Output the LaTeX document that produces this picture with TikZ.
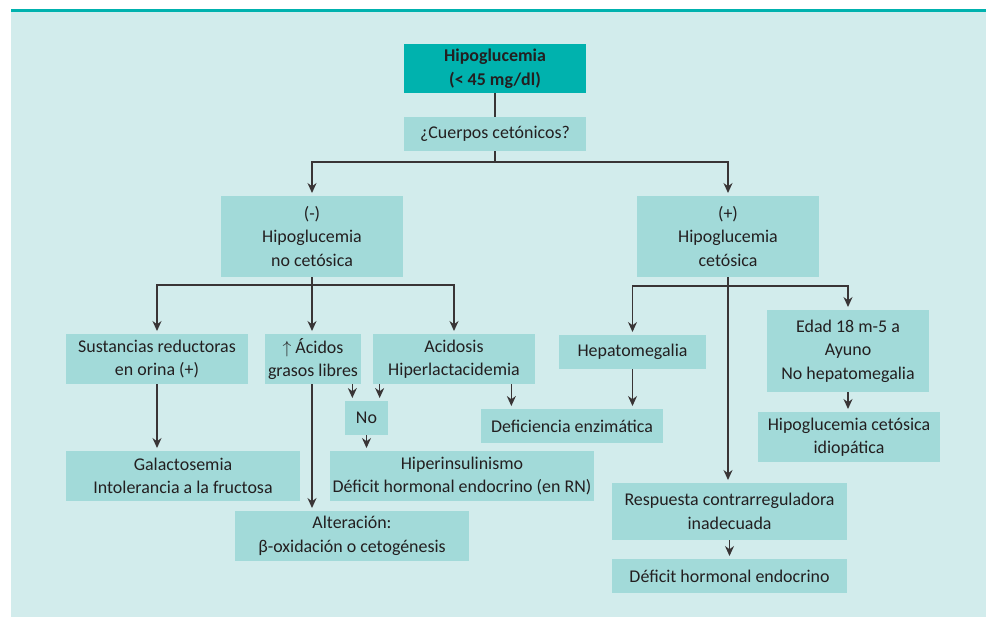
\documentclass[tikz,border=0pt]{standalone}
\usepackage{fontspec}
\setmainfont{Carlito}
\usetikzlibrary{arrows.meta,positioning}
\definecolor{PanelCyan}{HTML}{D2ECEC}
\definecolor{BoxCyan}{HTML}{A2DAD9}
\definecolor{HeadTeal}{HTML}{00B2AE}
\definecolor{InkGray}{HTML}{231F20}

\begin{document}
\begin{tikzpicture}[x=0.02cm,y=-0.02cm,
    every node/.style={font=\fontsize{10.2}{13.4}\selectfont,text=InkGray,align=center,inner sep=0pt},
    box/.style={rectangle,fill=BoxCyan},
    headbox/.style={rectangle,fill=HeadTeal,font=\fontsize{10.2}{13.4}\selectfont\bfseries},
    link/.style={line width=0.75pt,color=InkGray!90},
    arr/.style={link,-{Stealth[length=2mm,width=1.8mm]},shorten >=1.5pt}]
    % panel
    \useasboundingbox (0,0) rectangle (986,617);
    \fill[PanelCyan] (11,9) rectangle (986,617);
    \fill[HeadTeal] (11,9) rectangle (986,12);

    % top
    \node[headbox,minimum width=3.64cm,minimum height=0.98cm] (hipo) at (495,68.5) {Hipoglucemia\\(< 45 mg/dl)};
    \node[box,minimum width=3.64cm,minimum height=0.68cm] (cuerpos) at (495,134) {¿Cuerpos cetónicos?};

    % left branch
    \node[box,minimum width=3.64cm,minimum height=1.62cm] (nocet) at (312,236.5) {(-)\\Hipoglucemia\\no cetósica};
    \node[box,minimum width=3.64cm,minimum height=1.0cm] (sust) at (157,359) {Sustancias reductoras\\en orina (+)};
    \node[box,minimum width=1.92cm,minimum height=1.0cm] (acidos) at (313,359) {$\uparrow$ Ácidos\\grasos libres};
    \node[box,minimum width=3.24cm,minimum height=1.0cm] (acidosis) at (454,359) {Acidosis\\Hiperlactacidemia};
    \node[box,minimum width=0.86cm,minimum height=0.68cm] (no) at (366.5,418) {No};
    \node[box,minimum width=3.64cm,minimum height=0.68cm] (defenz) at (572,426) {Deficiencia enzimática};
    \node[box,minimum width=4.68cm,minimum height=1.0cm] (galac) at (183,476) {Galactosemia\\Intolerancia a la fructosa};
    \node[box,minimum width=5.28cm,minimum height=1.0cm] (hiperins) at (462,476) {Hiperinsulinismo\\Déficit hormonal endocrino (en RN)};
    \node[box,minimum width=4.68cm,minimum height=1.0cm] (alter) at (352,536) {Alteración:\\β-oxidación o cetogénesis};

    % right branch
    \node[box,minimum width=3.64cm,minimum height=1.62cm] (cet) at (728,236.5) {(+)\\Hipoglucemia\\cetósica};
    \node[box,minimum width=2.94cm,minimum height=0.68cm] (hepato) at (632.5,352) {Hepatomegalia};
    \node[box,minimum width=3.24cm,minimum height=1.64cm] (edad) at (848,351) {Edad 18 m-5 a\\Ayuno\\No hepatomegalia};
    \node[box,minimum width=3.64cm,minimum height=1.0cm] (idiop) at (849,437) {Hipoglucemia cetósica\\idiopática};
    \node[box,minimum width=4.7cm,minimum height=1.14cm] (resp) at (729.5,511.5) {Respuesta contrarreguladora\\inadecuada};
    \node[box,minimum width=4.7cm,minimum height=0.68cm] (defhorm) at (729.5,576) {Déficit hormonal endocrino};

    % split points
    \coordinate (split1) at (495,162);
    \coordinate (split2) at (312,285);
    \coordinate (split3) at (728,286);
    \coordinate (acidosR) at ([xshift=-0.18cm]acidos.south east);
    \coordinate (acidosisL) at ([xshift=0.14cm]acidosis.south west);
    \coordinate (acidosisR) at ([xshift=-0.48cm]acidosis.south east);

    \draw[link] (hipo) -- (cuerpos);
    \draw[link] (cuerpos) -- (split1);
    \draw[arr] (split1) -| (nocet);
    \draw[arr] (split1) -| (cet);

    \draw[link] (nocet) -- (split2);
    \draw[arr] (split2) -| (sust);
    \draw[arr] (split2) -- (split2 |- acidos.north);
    \draw[arr] (split2) -| (acidosis);
    \draw[arr] (sust) -- (sust.south |- galac.north);
    \draw[arr] (acidos.south -| split2) -- (split2 |- alter.north);
    \draw[arr] (acidosR) -- (acidosR |- no.north);
    \draw[arr] (acidosisL) -- (acidosisL |- no.north);
    \draw[arr] (acidosisR) -- (acidosisR |- defenz.north);
    \draw[arr] (no) -- (no.south |- hiperins.north);

    \draw[link] (cet) -- (split3);
    \draw[arr] (split3) -| (hepato);
    \draw[arr] (split3) -| (edad);
    \draw[arr] (split3) -- (split3 |- resp.north);
    \draw[arr] (hepato) -- (hepato.south |- defenz.north);
    \draw[arr] (edad) -- (edad.south |- idiop.north);
    \draw[arr] (resp) -- (resp.south |- defhorm.north);
\end{tikzpicture}
\end{document}
